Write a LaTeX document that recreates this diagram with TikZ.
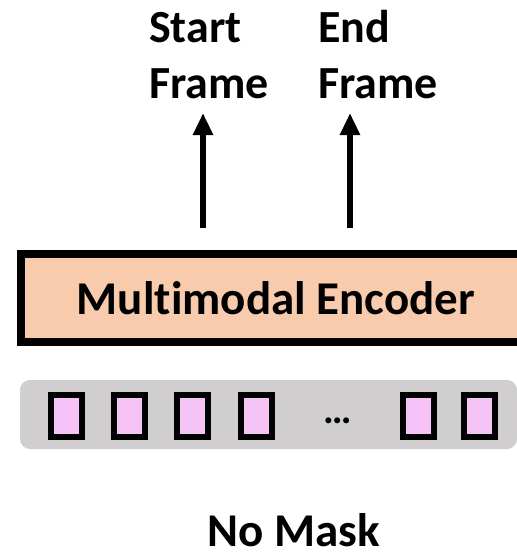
\documentclass[tikz,border=0pt]{standalone}
\usepackage{fontspec}
\setmainfont{Carlito}[Ligatures={NoCommon}]
\usetikzlibrary{arrows.meta}
\definecolor{encfill}{HTML}{F8CBAD}
\definecolor{barfill}{HTML}{D0CECE}
\definecolor{tokfill}{HTML}{F5C3F6}
\tikzset{
  lbl/.style={font=\bfseries\fontsize{46}{56}\selectfont, inner sep=0pt, align=left},
  encbox/.style={draw=black, line width=8pt, fill=encfill, minimum width=510pt,
    minimum height=88pt, inner sep=0pt, outer sep=0pt,
    font=\bfseries\fontsize{47}{56}\selectfont},
  bar/.style={fill=barfill, rounded corners=10pt, minimum width=497pt,
    minimum height=69pt, inner sep=0pt, outer sep=0pt},
  tok/.style={draw=black, line width=6pt, fill=tokfill, minimum width=31pt,
    minimum height=42pt, inner sep=0pt, outer sep=0pt},
  uparrow/.style={line width=6pt, -{Triangle[length=22pt,width=19pt]}},
}
\begin{document}
\begin{tikzpicture}[x=1pt, y=-1pt]
  \clip (0,0) rectangle (517,552);
  \fill[white] (0,0) rectangle (517,552);

  % output labels (anchored at the baseline of their last line)
  \node[lbl, anchor=base west] (start) at (149,98) {Start\\Frame};
  \node[lbl, anchor=base west] (end) at (318,98) {End\\Frame};

  % encoder block
  \node[encbox] (enc) at (276,298) {Multimodal Encoder};

  % arrows from the encoder up to the labels
  \coordinate (sfrom) at (203,228);
  \coordinate (sto) at (203,113);
  \coordinate (efrom) at (350,228);
  \coordinate (eto) at (350,113);
  \draw[uparrow] (sfrom) -- (sto);
  \draw[uparrow] (efrom) -- (eto);

  % input token sequence
  \node[bar] (seq) at (268.5,414.5) {};
  \node[tok] (t1) at (66.5,416) {};
  \node[tok] (t2) at (129,416) {};
  \node[tok] (t3) at (192,416) {};
  \node[tok] (t4) at (256.5,416) {};
  \node[font=\bfseries\fontsize{40}{40}\selectfont, inner sep=0pt, anchor=base] (dots) at (338,423) {\dots};
  \node[tok] (t5) at (418.5,416) {};
  \node[tok] (t6) at (479,416) {};

  % caption
  \node[font=\bfseries\fontsize{47}{56}\selectfont, inner sep=0pt, text depth=0pt, anchor=base] (cap) at (294,546) {No Mask};
\end{tikzpicture}
\end{document}
